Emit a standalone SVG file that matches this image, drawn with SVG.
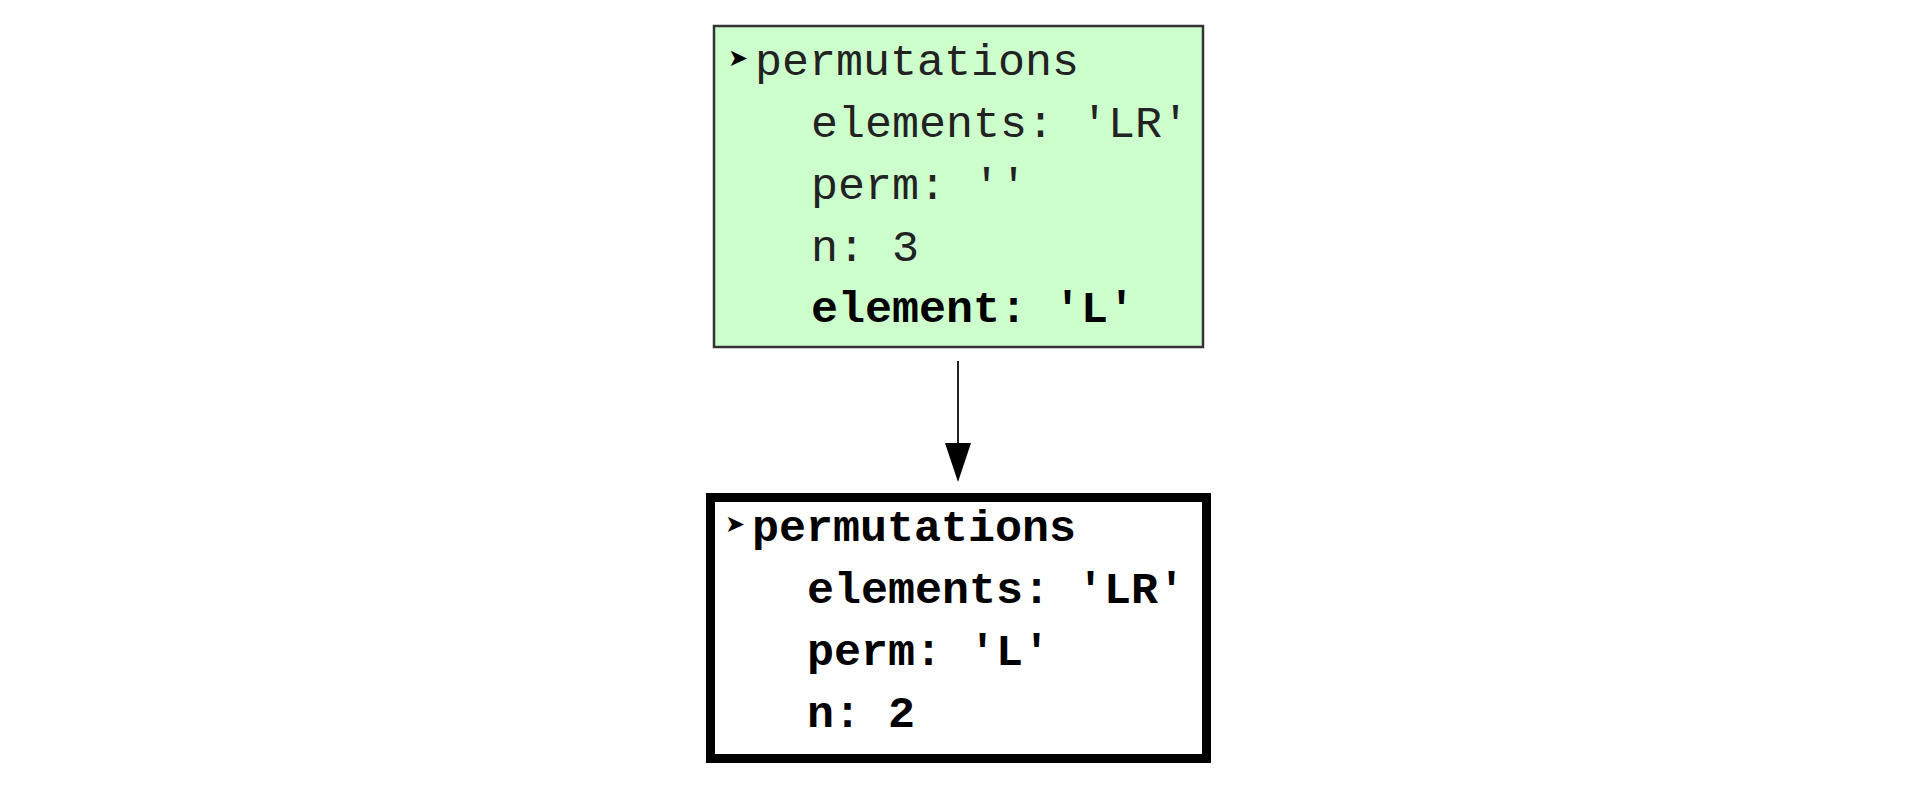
<svg xmlns="http://www.w3.org/2000/svg" width="1917" height="791" viewBox="0 0 1917 791">
<defs>
<style>
.t{font-family:"Liberation Mono","Courier New",monospace;font-size:45px;fill:#222}
.b{font-weight:bold;fill:#000}
.ar{font-family:"DejaVu Sans",sans-serif;font-size:24px;fill:#000}
</style>
<marker id="ah" viewBox="0 0 10 10" refX="10" refY="5" markerWidth="10" markerHeight="10" markerUnits="userSpaceOnUse" orient="auto"><path d="M0,0 L10,5 L0,10 z" fill="#000"/></marker>
</defs>
<rect width="1917" height="791" fill="#fff"/>
<g id="frame1">
<rect x="714" y="26" width="489" height="321" fill="#ccffcc" stroke="#333" stroke-width="2.5"/>
<text class="ar" x="728" y="66">➤</text>
<text class="t" x="755" y="75">permutations</text>
<text class="t" x="811" y="137">elements: 'LR'</text>
<text class="t" x="811" y="199">perm: ''</text>
<text class="t" x="811" y="261">n: 3</text>
<text class="t b" x="811" y="322">element: 'L'</text>
</g>
<g id="frame2">
<rect x="710.5" y="497.5" width="496" height="261" fill="#fff" stroke="#000" stroke-width="9"/>
<text class="ar" x="725" y="532">➤</text>
<text class="t b" x="752" y="541">permutations</text>
<text class="t b" x="807" y="603">elements: 'LR'</text>
<text class="t b" x="807" y="665">perm: 'L'</text>
<text class="t b" x="807" y="727">n: 2</text>
</g>
<g id="connectors">
<line x1="958" y1="361" x2="958" y2="445" stroke="#222" stroke-width="2"/>
<path d="M945,443 L971,443 L958,482 z" fill="#000"/>
</g>
</svg>
